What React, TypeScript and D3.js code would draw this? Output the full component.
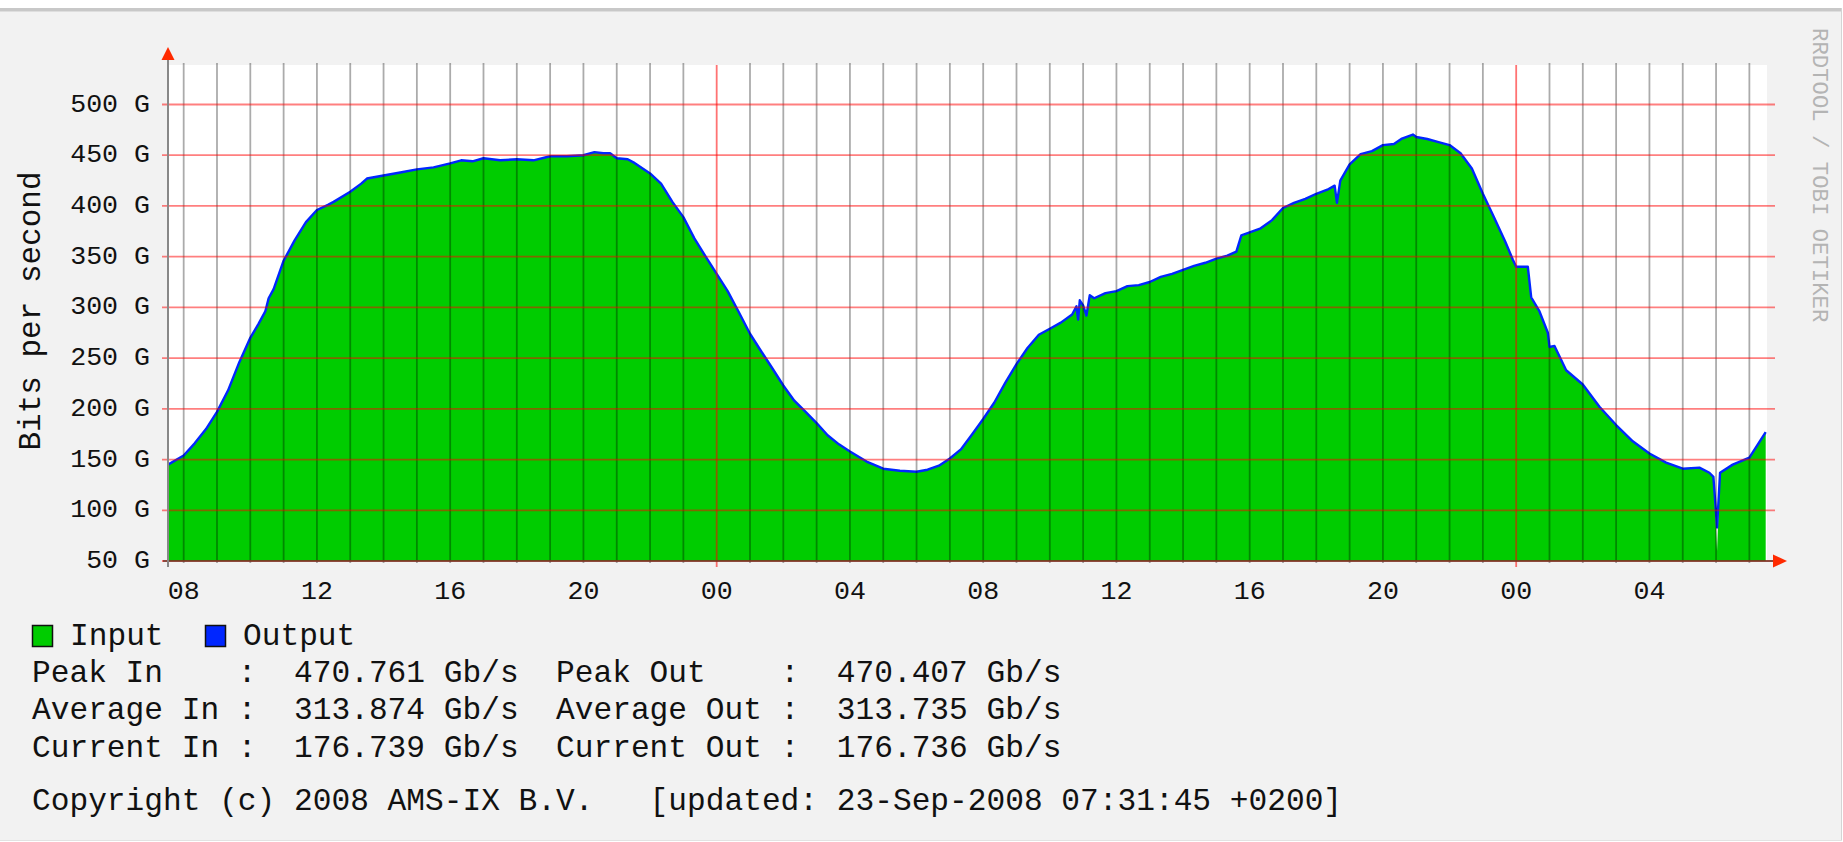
import React from 'react';
import * as d3 from 'd3';

const WIDTH = 1843;
const HEIGHT = 842;

// time of each sample, in hours relative to 22-Sep-2008 00:00
const hours = [
  -16.47, -16.0, -15.67, -15.33, -15.0, -14.67, -14.33, -14.0, -13.75, -13.55,
  -13.45, -13.3, -13.0, -12.67, -12.33, -12.0, -11.67, -11.5, -11.0, -10.67,
  -10.5, -10.0, -9.5, -9.0, -8.5, -8.0, -7.67, -7.33, -7.0, -6.5,
  -6.0, -5.5, -5.0, -4.5, -4.0, -3.67, -3.4, -3.2, -3.0, -2.67,
  -2.5, -2.0, -1.67, -1.33, -1.0, -0.67, -0.33, 0.0, 0.33, 0.67,
  1.0, 1.33, 1.67, 2.0, 2.33, 2.67, 3.0, 3.33, 3.67, 4.0,
  4.5, 5.0, 5.5, 6.0, 6.33, 6.67, 7.0, 7.33, 7.67, 8.0,
  8.33, 8.67, 9.0, 9.33, 9.67, 10.0, 10.33, 10.67, 10.8, 10.85,
  10.9, 11.0, 11.1, 11.2, 11.33, 11.67, 12.0, 12.33, 12.67, 13.0,
  13.33, 13.67, 14.0, 14.33, 14.67, 15.0, 15.33, 15.6, 15.75, 16.0,
  16.33, 16.67, 17.0, 17.33, 17.67, 18.0, 18.33, 18.55, 18.62, 18.72,
  19.0, 19.33, 19.67, 20.0, 20.33, 20.55, 20.9, 21.0, 21.33, 21.67,
  22.0, 22.33, 22.67, 23.0, 23.33, 23.67, 23.9, 24.0, 24.35, 24.45,
  24.7, 24.95, 25.0, 25.15, 25.5, 26.0, 26.5, 27.0, 27.5, 28.0,
  28.5, 29.0, 29.5, 29.8, 29.92, 30.03, 30.12, 30.5, 31.0, 31.49,
];

// Input, Gb/s
const inputGbps = [
  145, 154, 166, 180, 197, 218, 246, 270, 284, 296,
  309, 318, 346, 366, 384, 396, 401, 404, 414, 422,
  427, 430, 433, 436, 438, 442, 445, 444, 447, 445,
  446, 445, 449, 449, 450, 453, 452, 452, 447, 446,
  443, 432, 422, 404, 389, 368, 350, 333, 316, 295,
  274, 257, 240, 223, 208, 197, 186, 174, 165, 158,
  148, 141, 139, 138, 140, 144, 151, 160, 175, 190,
  206, 226, 244, 260, 273, 279, 285, 293, 300, 290,
  306, 302, 293, 311, 309, 314, 316, 321, 322, 325,
  330, 333, 337, 341, 344, 348, 351, 355, 370, 374,
  378, 386, 398, 403, 407, 412, 416, 420, 404, 425,
  441, 451, 454, 460, 461, 466, 470.8, 468, 466, 463,
  460, 452, 437, 412, 389, 365, 347, 340, 340, 310,
  296, 275, 261, 262, 238, 224, 202, 184, 168, 156,
  147, 141, 142, 137, 133, 60, 137, 145, 152, 177,
];

// Output, Gb/s
const outputGbps = [
  145, 154, 166, 180, 197, 218, 246, 270, 284, 296,
  309, 318, 346, 366, 384, 396, 401, 404, 414, 422,
  427, 430, 433, 436, 438, 442, 445, 444, 447, 445,
  446, 445, 449, 449, 450, 453, 452, 452, 447, 446,
  443, 432, 422, 404, 389, 368, 350, 333, 316, 295,
  274, 257, 240, 223, 208, 197, 186, 174, 165, 158,
  148, 141, 139, 138, 140, 144, 151, 160, 175, 190,
  206, 226, 244, 260, 273, 279, 285, 293, 301, 288,
  307, 302, 292, 312, 309, 314, 316, 321, 322, 325,
  330, 333, 337, 341, 344, 348, 351, 355, 371, 374,
  378, 386, 398, 403, 407, 412, 416, 420, 403, 425,
  441, 451, 454, 460, 461, 466, 470.4, 468, 466, 463,
  460, 452, 437, 412, 389, 365, 347, 340, 340, 310,
  296, 275, 261, 262, 238, 224, 202, 184, 168, 156,
  147, 141, 142, 137, 133, 83, 137, 145, 152, 177,
];

const yTicks = [50, 100, 150, 200, 250, 300, 350, 400, 450, 500];

const legendRows = [
  'Peak In    :  470.761 Gb/s  Peak Out    :  470.407 Gb/s',
  'Average In :  313.874 Gb/s  Average Out :  313.735 Gb/s',
  'Current In :  176.739 Gb/s  Current Out :  176.736 Gb/s',
];
const footer = 'Copyright (c) 2008 AMS-IX B.V.   [updated: 23-Sep-2008 07:31:45 +0200]';

const dayZero = Date.UTC(2008, 8, 22, 0, 0, 0);
const tStart = new Date(Date.UTC(2008, 8, 21, 7, 31, 45));
const tEnd = new Date(Date.UTC(2008, 8, 23, 7, 31, 45));

const MONO = '"Liberation Mono", "DejaVu Sans Mono", monospace';
const GREEN = '#00cc00';
const BLUE = '#0026ff';

type Pt = { t: Date; v: number };

const App = () => {
  const x = d3.scaleUtc().domain([tStart, tEnd]).range([168, 1767]);
  const y = d3.scaleLinear().domain([50, 500]).range([561, 104.5]);
  const plotTop = 65;

  const inPts: Pt[] = hours.map((h, i) => ({ t: new Date(dayZero + h * 3600e3), v: inputGbps[i] }));
  const outPts: Pt[] = hours.map((h, i) => ({ t: new Date(dayZero + h * 3600e3), v: outputGbps[i] }));

  const area = d3.area<Pt>().x(d => x(d.t)).y0(y(50)).y1(d => y(d.v));
  const line = d3.line<Pt>().x(d => x(d.t)).y(d => y(d.v));

  const minor = d3.utcHour.range(d3.utcHour.ceil(tStart), tEnd).filter(d => d.getUTCHours() !== 0);
  const major = d3.utcDay.range(d3.utcDay.ceil(tStart), tEnd);
  const labels = d3.utcHour.every(4)!.range(d3.utcHour.ceil(tStart), tEnd);
  const fmt = d3.utcFormat('%H');

  return (
    <div style={{ position: 'absolute', left: 0, top: 0 }}>
      <svg width={WIDTH} height={HEIGHT} style={{ display: 'block' }}>
        <rect x={0} y={0} width={WIDTH} height={HEIGHT} fill="#ffffff" />
        <rect x={0} y={8} width={1842} height={833} fill="#f2f2f2" />
        <rect x={0} y={8} width={1842} height={3} fill="#c8c8c8" />
        <rect x={0} y={11} width={1842} height={1} fill="#dedede" />
        <rect x={1841} y={8} width={1} height={833} fill="#d4d4d4" />
        <rect x={0} y={840} width={1842} height={1} fill="#e2e2e2" />

        {/* canvas */}
        <rect x={168} y={plotTop} width={1767 - 168} height={561 - plotTop} fill="#ffffff" />

        <path d={area(inPts) ?? ''} fill={GREEN} />
        <path d={line(outPts) ?? ''} fill="none" stroke={BLUE} strokeWidth={2.4} strokeLinejoin="round" />

        {/* minor grid (hours) */}
        {minor.map(d => (
          <line key={'m' + +d} x1={x(d)} x2={x(d)} y1={63} y2={563}
            stroke="#000" strokeOpacity={0.33} strokeWidth={1.8} />
        ))}

        {/* horizontal grid */}
        {yTicks.map(v => (
          <line key={'h' + v} x1={162} x2={1775} y1={y(v)} y2={y(v)}
            stroke="#ff0000" strokeOpacity={0.5} strokeWidth={1.8} />
        ))}

        {/* major grid (midnight) */}
        {major.map(d => (
          <line key={'M' + +d} x1={x(d)} x2={x(d)} y1={plotTop} y2={567}
            stroke="#ff0000" strokeOpacity={0.55} strokeWidth={1.8} />
        ))}

        {/* axes */}
        <line x1={163} x2={1775} y1={561} y2={561} stroke="#6a3a2a" strokeWidth={1.6} />
        <line x1={168} x2={168} y1={567} y2={56} stroke="#888" strokeWidth={2} />
        <path d="M168,47 L161.5,60 L174.5,60 Z" fill="#ff2a00" />
        <path d="M1787,561 L1773,554.5 L1773,567.5 Z" fill="#ff2a00" />

        {/* y labels */}
        {yTicks.map(v => (
          <text key={'yl' + v} x={150} y={y(v) + 7} textAnchor="end"
            fontFamily={MONO} fontSize={26.6} fill="#111" style={{ whiteSpace: 'pre' }}>
            {`${v} G`}
          </text>
        ))}

        {/* x labels */}
        {labels.map(d => (
          <text key={'xl' + +d} x={x(d)} y={599} textAnchor="middle"
            fontFamily={MONO} fontSize={26.6} fill="#111">
            {fmt(d)}
          </text>
        ))}

        <text transform="translate(40,311) rotate(-90)" textAnchor="middle"
          fontFamily={MONO} fontSize={31} fill="#111">
          Bits per second
        </text>

        <text transform="translate(1813,28) rotate(90)" fontFamily={MONO} fontSize={22.3} fill="#b4b4b4"
          style={{ whiteSpace: 'pre' }}>
          RRDTOOL / TOBI OETIKER
        </text>

        {/* legend */}
        <rect x={32.5} y={625.5} width={20} height={21} fill={GREEN} stroke="#111" strokeWidth={1.5} />
        <text x={70} y={645} fontFamily={MONO} fontSize={31.2} fill="#111">Input</text>
        <rect x={205.5} y={625.5} width={20} height={21} fill={BLUE} stroke="#111" strokeWidth={1.5} />
        <text x={243} y={645} fontFamily={MONO} fontSize={31.2} fill="#111">Output</text>

        {legendRows.map((row, i) => (
          <text key={'lr' + i} x={32} y={682 + i * 37.3} fontFamily={MONO} fontSize={31.2}
            fill="#111" style={{ whiteSpace: 'pre' }}>
            {row}
          </text>
        ))}
        <text x={32} y={810} fontFamily={MONO} fontSize={31.2} fill="#111" style={{ whiteSpace: 'pre' }}>
          {footer}
        </text>
      </svg>
    </div>
  );
};

export default App;
